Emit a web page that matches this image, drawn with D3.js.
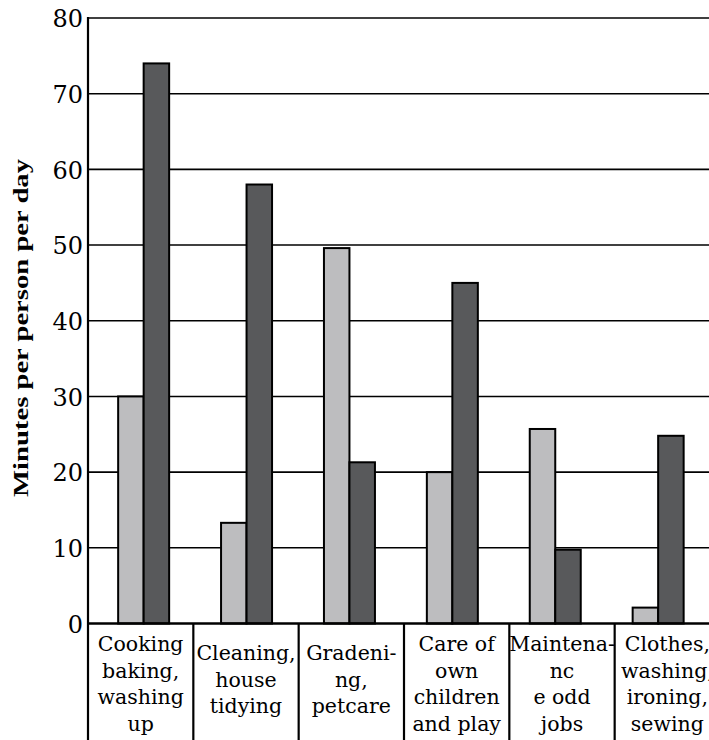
<!DOCTYPE html>
<html>
<head>
<meta charset="utf-8">
<script src="https://cdn.jsdelivr.net/npm/d3@7"></script>
<style>
  html, body { margin: 0; padding: 0; background: #fff; }
  svg { display: block; }
  svg text { fill: #000; }
  .f-lib { font-family: "Liberation Serif", "DejaVu Serif", serif; }
  .f-dv { font-family: "DejaVu Serif", serif; }
</style>
</head>
<body>
<svg id="chart" width="709" height="740"></svg>
<script>
const categories = [
  ["Cooking", "baking,", "washing", "up"],
  ["Cleaning,", "house", "tidying"],
  ["Gradeni-", "ng,", "petcare"],
  ["Care of", "own", "children", "and play"],
  ["Maintena-", "nc", "e odd", "jobs"],
  ["Clothes,", "washing,", "ironing,", "sewing"]
];
const seriesNames = ["Series A", "Series B"];
const seriesA = [30, 13.3, 49.6, 20, 25.7, 2.1];
const seriesB = [74, 58, 21.3, 45, 9.75, 24.8];
const yTicks = [0, 10, 20, 30, 40, 50, 60, 70, 80];
const yLabel = "Minutes per person per day";
const colors = ["#bdbdbf", "#58595b"];

(function () {
const svg = d3.select("#chart");
const mLeft = 88, mRight = 720, mTop = 18, mBottom = 623.5;
const catKeys = categories.map((c, i) => i);

const xBox = d3.scaleBand().domain(catKeys).range([mLeft, mRight]).padding(0);
const x = d3.scaleBand().domain(catKeys).range([92.2, 709.6]).padding(0);
const xSub = d3.scaleBand().domain(seriesNames).range([0, x.bandwidth()]).paddingInner(0).paddingOuter(1.018);
const y = d3.scaleLinear().domain([0, 80]).range([mBottom, mTop]);

svg.append("g").selectAll("line").data(yTicks.filter(t => t > 0)).join("line")
  .attr("x1", mLeft).attr("x2", 709)
  .attr("y1", d => y(d)).attr("y2", d => y(d))
  .attr("stroke", "#000").attr("stroke-width", 1.6);

const data = catKeys.map(i => ({ i, vals: [seriesA[i], seriesB[i]] }));
const groups = svg.append("g").selectAll("g").data(data).join("g")
  .attr("transform", d => `translate(${x(d.i)},0)`);
groups.selectAll("rect").data(d => d.vals.map((v, k) => ({ v, k }))).join("rect")
  .attr("x", d => xSub(seriesNames[d.k]))
  .attr("width", xSub.bandwidth())
  .attr("y", d => y(d.v))
  .attr("height", d => y(0) - y(d.v))
  .attr("fill", d => colors[d.k])
  .attr("stroke", "#000").attr("stroke-width", 2);

const yAxis = d3.axisLeft(y).tickValues(yTicks).tickSize(0).tickPadding(5).tickFormat(d3.format("d"));
const ya = svg.append("g").attr("transform", `translate(${mLeft},0)`).call(yAxis);
ya.select(".domain").remove();
ya.attr("font-family", null);
ya.selectAll("text").attr("class", "f-dv").attr("font-size", 24).attr("dy", "0.36em");

svg.append("line").attr("x1", mLeft).attr("x2", mLeft).attr("y1", mTop - 1).attr("y2", 740)
  .attr("stroke", "#000").attr("stroke-width", 2.2);
svg.append("line").attr("x1", mLeft - 1).attr("x2", 709).attr("y1", mBottom).attr("y2", mBottom)
  .attr("stroke", "#000").attr("stroke-width", 2.4);

svg.append("g").selectAll("line").data(catKeys.slice(1)).join("line")
  .attr("x1", d => xBox(d)).attr("x2", d => xBox(d))
  .attr("y1", mBottom).attr("y2", 740)
  .attr("stroke", "#000").attr("stroke-width", 2.2);

const lab = svg.append("g").selectAll("text").data(data).join("text")
  .attr("class", "f-dv")
  .attr("text-anchor", "middle")
  .attr("font-size", 20.5)
  .attr("x", d => xBox(d.i) + xBox.bandwidth() / 2)
  .attr("y", d => categories[d.i].length === 4 ? 651 : 660);
lab.selectAll("tspan").data(d => categories[d.i].map(s => ({ s, x: xBox(d.i) + xBox.bandwidth() / 2 }))).join("tspan")
  .attr("x", d => d.x)
  .attr("dy", (d, k) => k === 0 ? 0 : 26.7)
  .text(d => d.s);

svg.append("text")
  .attr("class", "f-lib")
  .attr("transform", "translate(28,328) rotate(-90)")
  .attr("text-anchor", "middle")
  .attr("font-weight", "bold")
  .attr("font-size", 22)
  .attr("textLength", 338)
  .attr("lengthAdjust", "spacingAndGlyphs")
  .text(yLabel);
})();
</script>
</body>
</html>
